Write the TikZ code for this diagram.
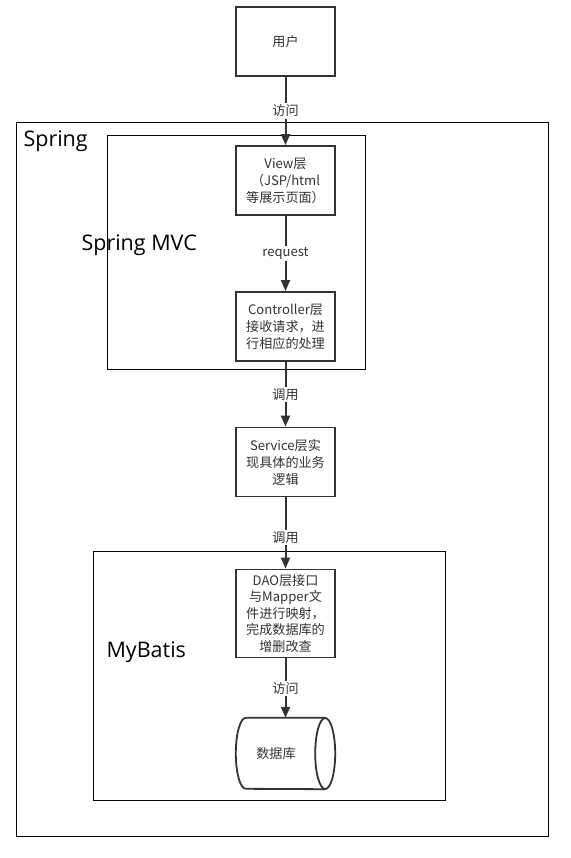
\documentclass[tikz,border=0pt]{standalone}
\usepackage{fontspec}
\setmainfont{Noto Sans CJK SC}
\newfontfamily\latinbig{Open Sans}
\usetikzlibrary{arrows.meta,calc}
\begin{document}
\begin{tikzpicture}[x=1pt,y=-1pt,
  box/.style={draw=black!80,line width=1.8pt,minimum width=99pt,minimum height=69pt,inner sep=1pt,align=center,font=\fontsize{13.1}{17}\selectfont,text=black!80},
  frame/.style={draw=black,line width=0.9pt},
  conn/.style={draw=black!80,line width=2pt,-{Triangle[length=11pt,width=9pt]}},
  lbl/.style={fill=white,inner sep=1.5pt,font=\fontsize{13.1}{15}\selectfont,text=black!80},
  big/.style={font=\latinbig\fontsize{21.5}{25}\selectfont,text=black,anchor=west}]
\useasboundingbox (0,0) rectangle (570,858);
\fill[white] (0,0) rectangle (570,858);
% frames
\draw[frame] (16,122) rectangle (548,836);
\draw[frame] (107,135) rectangle (365,369);
\draw[frame] (93,551) rectangle (445,800);
\node[big] (lspring) at (20,141) {Spring};
\node[big] (lmvc) at (78,245) {Spring MVC};
\node[big] (lmyb) at (103,652) {MyBatis};
% boxes
\node[box] (user) at (285.5,41.5) {用户};
\node[box] (view) at (285.5,180.5) {View层\\（JSP/html\\等展示页面）};
\node[box] (ctrl) at (285.5,326.5) {Controller层\\接收请求，进\\行相应的处理};
\node[box] (svc) at (285.5,462) {Service层实\\现具体的业务\\逻辑};
\node[box,minimum height=88pt,font=\fontsize{13.1}{16.5}\selectfont] (dao) at (285.5,613.5) {DAO层接口\\与Mapper文\\件进行映射，\\完成数据库的\\增删改查};
% database cylinder
\node[minimum width=99pt,minimum height=71pt,inner sep=0pt,font=\fontsize{13.1}{15}\selectfont,text=black!80] (db) at (285.5,753.5) {数据库\hspace*{19pt}};
\draw[draw=black!80,line width=1.8pt]
  ($(db.north east)+(-10,0)$) -- ($(db.north west)+(10,0)$)
  arc[start angle=90,end angle=270,x radius=10pt,y radius=35.5pt]
  -- ($(db.south east)+(-10,0)$);
\draw[draw=black!80,line width=1.8pt] ($(db.east)+(-10,0)$) ellipse[x radius=10pt,y radius=35.5pt];
% connectors
\draw[conn] (user) -- node[lbl] {访问} (view);
\draw[conn] (view) -- node[lbl] {request} (ctrl);
\draw[conn] (ctrl) -- node[lbl] {调用} (svc);
\draw[conn] (svc) -- node[lbl,pos=0.56] {调用} (dao);
\draw[conn] (dao) -- node[lbl] {访问} (db);
\end{tikzpicture}
\end{document}
